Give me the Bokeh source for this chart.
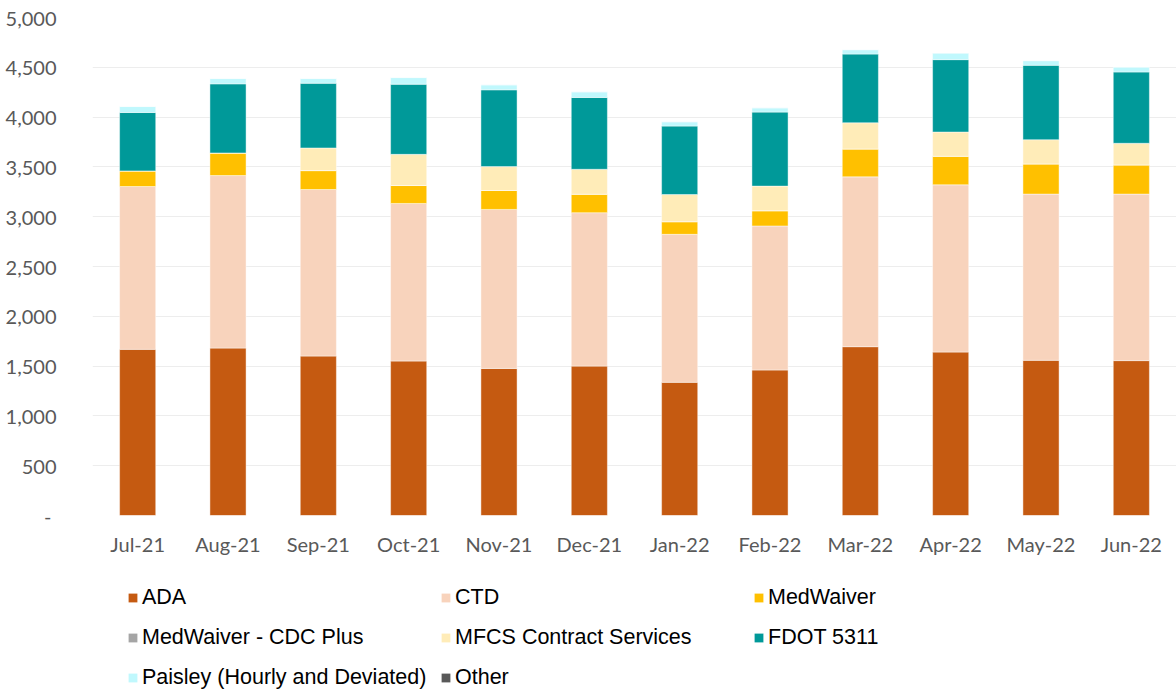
from bokeh.plotting import figure
from bokeh.layouts import column
from bokeh.models import FactorRange, Range1d, Legend, LegendItem, NumeralTickFormatter, FixedTicker
from bokeh.embed import file_html
from bokeh.resources import INLINE

months = ["Jul-21", "Aug-21", "Sep-21", "Oct-21", "Nov-21", "Dec-21",
          "Jan-22", "Feb-22", "Mar-22", "Apr-22", "May-22", "Jun-22"]

ada       = [1668, 1681, 1601, 1551, 1477, 1500, 1337, 1461, 1695, 1641, 1558, 1555]
ctd       = [1635, 1732, 1672, 1582, 1596, 1540, 1486, 1446, 1705, 1679, 1669, 1672]
medwaiver = [157, 227, 190, 180, 190, 186, 127, 153, 280, 287, 303, 293]
cdc_plus  = [0, 0, 0, 0, 0, 0, 0, 0, 0, 0, 0, 0]
mfcs      = [0, 0, 227, 313, 240, 250, 273, 247, 263, 243, 243, 217]
fdot      = [586, 694, 650, 704, 771, 721, 687, 743, 690, 727, 747, 716]
paisley   = [60, 53, 47, 67, 50, 57, 43, 43, 44, 66, 47, 50]
other     = [0, 0, 0, 0, 0, 0, 0, 0, 0, 0, 0, 0]

series_keys = ["ada", "ctd", "medwaiver", "cdc_plus", "mfcs", "fdot", "paisley", "other"]
series_names = ["ADA", "CTD", "MedWaiver", "MedWaiver - CDC Plus",
                "MFCS Contract Services", "FDOT 5311", "Paisley (Hourly and Deviated)", "Other"]
colors = ["#C55A11", "#F8D3BC", "#FFC000", "#A5A5A5", "#FFECB8", "#009999", "#C0F8FD", "#595959"]

y_ticks = [0, 500, 1000, 1500, 2000, 2500, 3000, 3500, 4000, 4500, 5000]

data = dict(months=months, ada=ada, ctd=ctd, medwaiver=medwaiver, cdc_plus=cdc_plus,
            mfcs=mfcs, fdot=fdot, paisley=paisley, other=other)

p = figure(x_range=FactorRange(*months, range_padding=0), y_range=Range1d(0, 5000),
           width=1176, height=560, output_backend="svg", toolbar_location=None,
           min_border_left=92, min_border_right=0, min_border_top=17, min_border_bottom=45)
p.outline_line_color = None

renderers = p.vbar_stack(series_keys, x="months", width=0.4, source=data,
                         fill_color=colors, line_color="white", line_alpha=0.6, line_width=0.75)

p.xgrid.grid_line_color = None
p.ygrid.grid_line_color = "#EDEDED"
p.ygrid.grid_line_width = 1
p.yaxis.ticker = FixedTicker(ticks=y_ticks)
p.yaxis.formatter = NumeralTickFormatter(format="0,0")
p.yaxis.major_label_overrides = {0: "-\u00a0"}

for ax in (p.xaxis[0], p.yaxis[0]):
    ax.axis_line_color = None
    ax.major_tick_line_color = None
    ax.minor_tick_line_color = None
    ax.major_label_text_font = "Lato"
    ax.major_label_text_font_size = "20px"
    ax.major_label_text_color = "#595959"
p.yaxis.major_label_standoff = 30
p.xaxis.major_label_standoff = 10

# legend drawn in its own strip below the chart (frames are aligned by the column)
lg = figure(width=1176, height=130, output_backend="svg", toolbar_location=None,
            x_range=Range1d(0, 1), y_range=Range1d(0, 1),
            x_axis_location=None, y_axis_location=None, min_border=0)
lg.outline_line_color = None
lg.xgrid.grid_line_color = None
lg.ygrid.grid_line_color = None
# zero-size placeholder bars: only their colours are used, by the legend swatches
swatches = [lg.vbar(x=[0], top=[0], bottom=[0], width=0, fill_color=c, line_color=None)
            for c in colors]

items = [LegendItem(label=n, renderers=[r]) for n, r in zip(series_names, swatches)]
legend = Legend(items=items, orientation="horizontal", ncols=3, location=(35, -7),
                margin=0, padding=0, spacing=0, glyph_width=11, glyph_height=11,
                label_standoff=4, label_width=298, label_height=40,
                label_text_font="Liberation Sans", label_text_font_size="21.5px",
                label_text_color="#000000", border_line_color=None, background_fill_alpha=0)
lg.add_layout(legend, "center")

open("out.html", "w").write(file_html(column(p, lg, spacing=0), INLINE))
